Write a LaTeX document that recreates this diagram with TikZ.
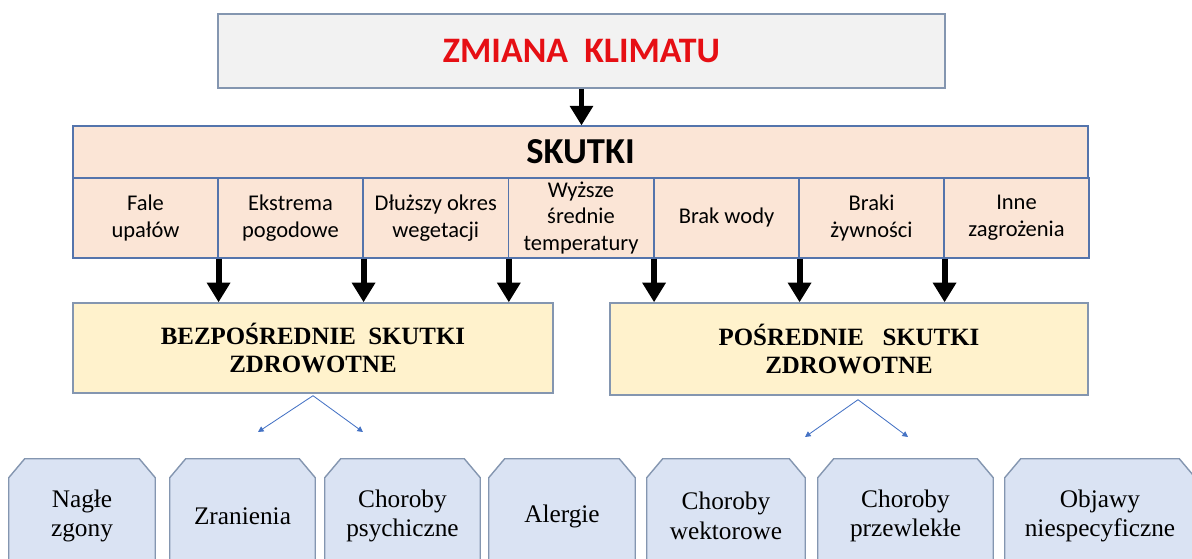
\documentclass[tikz,border=0pt]{standalone}
\usepackage{fontspec}
\setmainfont{Liberation Serif}
\newfontfamily\calibri{Carlito}
\usepackage{tikz}
\usetikzlibrary{arrows.meta}
\usetikzlibrary{backgrounds}

\definecolor{ramka}{HTML}{8496B0}
\definecolor{szary}{HTML}{F2F2F2}
\definecolor{brzoskwinia}{HTML}{FBE5D6}
\definecolor{niebieska}{HTML}{5474AC}
\definecolor{zolty}{HTML}{FFF2CC}
\definecolor{blekit}{HTML}{DAE3F3}
\definecolor{czerwony}{HTML}{E60F14}
\definecolor{strzalka}{HTML}{4472C4}

\tikzset{
	komorka/.style={draw=niebieska, line width=0.8pt, fill=brzoskwinia, minimum width=36.25mm, minimum height=20mm, inner sep=1pt, align=center, font=\calibri\fontsize{16}{19}\selectfont},
	skutek/.style={draw=ramka, line width=1pt, fill=zolty, align=center, font=\bfseries\fontsize{17.7}{20}\selectfont},
	choroba/.style={align=center, minimum height=28.5mm, inner sep=0pt, font=\fontsize{18}{21}\selectfont},
	obrys/.style={draw=ramka, line width=1pt, fill=blekit},
	gruba/.style={-{Triangle[width=16pt,length=14pt]}, line width=4.2pt},
	cienka/.style={-{Triangle[width=4pt,length=4pt]}, draw=strzalka, line width=0.6pt}
}

\begin{document}
\begin{tikzpicture}[x=0.25mm,y=-0.25mm]
	\useasboundingbox (0,0) rectangle (1192,559);
	\clip (0,0) rectangle (1192,559);

	\node (klimat) at (581.5,51) [draw=ramka, line width=1.2pt, fill=szary, minimum width=181.75mm, minimum height=18.5mm] {\calibri\bfseries\fontsize{25.5}{29}\selectfont\color{czerwony}ZMIANA\ \ KLIMATU};

	\node (skutki) at (580.5,152) [draw=niebieska, line width=0.8pt, fill=brzoskwinia, minimum width=253.75mm, minimum height=13mm] {\calibri\bfseries\fontsize{26}{30}\selectfont SKUTKI};

	\node (fale) at (145.5,218) [komorka] {Fale\\upałów};
	\node (ekstrema) at (290.5,218) [komorka] {Ekstrema\\pogodowe};
	\node (dluzszy) at (435.75,218) [komorka] {Dłuższy okres\\wegetacji};
	\node (wyzsze) at (581,218) [komorka] {Wyższe\\średnie\\temperatury};
	\node (brak) at (726.5,218) [komorka] {Brak wody};
	\node (braki) at (871.5,218) [komorka] {Braki\\żywności};
	\node (inne) at (1016.5,218) [komorka] {Inne\\zagrożenia};

	\draw[gruba] (klimat.south) -- (klimat.south |- skutki.north);

	\node (bezp) at (313,348) [skutek, minimum width=120mm, minimum height=22.5mm] {BEZPOŚREDNIE\ \ SKUTKI\\ZDROWOTNE};
	\node (posr) at (849,349) [skutek, minimum width=119.5mm, minimum height=23mm] {POŚREDNIE\ \ \ SKUTKI\\ZDROWOTNE};

	\draw[gruba] (fale.south east) -- (fale.south east |- bezp.north);
	\draw[gruba] (ekstrema.south east) -- (ekstrema.south east |- bezp.north);
	\draw[gruba] (dluzszy.south east) -- (dluzszy.south east |- bezp.north);
	\draw[gruba] (wyzsze.south east) -- (wyzsze.south east |- posr.north);
	\draw[gruba] (brak.south east) -- (brak.south east |- posr.north);
	\draw[gruba] (braki.south east) -- (braki.south east |- posr.north);

	\coordinate (bl) at (258,432);
	\coordinate (br) at (363,432);
	\coordinate (pl) at (805,437);
	\coordinate (pr) at (908,437);
	\draw[cienka] ([yshift=-0.5mm]bezp.south) -- (bl);
	\draw[cienka] ([yshift=-0.5mm]bezp.south) -- (br);
	\draw[cienka] ([xshift=2.25mm,yshift=-1mm]posr.south) -- (pl);
	\draw[cienka] ([xshift=2.25mm,yshift=-1mm]posr.south) -- (pr);

	\node (nagle) at (82,516) [choroba, minimum width=36.5mm] {Nagłe\\zgony};
	\node (zranienia) at (242.5,516) [choroba, minimum width=36.25mm] {Zranienia};
	\node (psych) at (402.5,516) [choroba, minimum width=38.75mm] {Choroby\\psychiczne};
	\node (alergie) at (562,516) [choroba, minimum width=36.5mm] {Alergie};
	\node (wekt) at (726,516) [choroba, minimum width=39.5mm] {Choroby\\wektorowe};
	\node (przewl) at (905.5,516) [choroba, minimum width=43.75mm] {Choroby\\przewlekłe};
	\node (objawy) at (1100,516) [choroba, minimum width=47.5mm] {Objawy\\niespecyficzne};

	\begin{scope}[on background layer]
		\foreach \n in {nagle,zranienia,psych,alergie,wekt,przewl,objawy}
			\draw[obrys] (\n.south west) -- ([yshift=-4.75mm]\n.north west) -- ([xshift=4mm]\n.north west)
				-- ([xshift=-4mm]\n.north east) -- ([yshift=-4.75mm]\n.north east) -- (\n.south east) -- cycle;
	\end{scope}
\end{tikzpicture}
\end{document}
